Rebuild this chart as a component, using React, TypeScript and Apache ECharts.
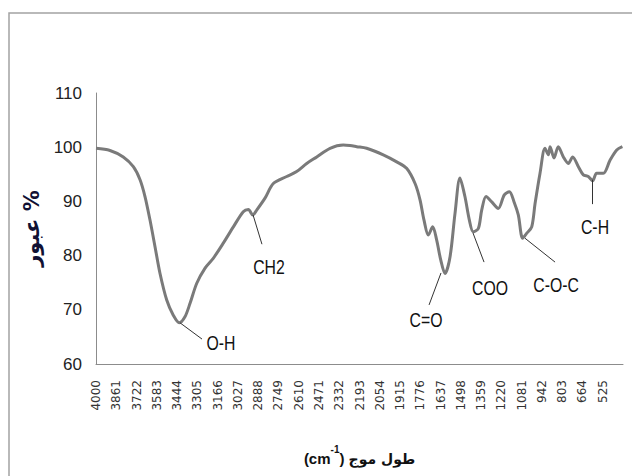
import React, { useEffect, useRef } from "react";
import * as echarts from "echarts";

// FTIR spectrum
const wavenumbers = [
  4000, 3904, 3813, 3744, 3698, 3664, 3630, 3595, 3561, 3515, 3470, 3429, 3390, 3355,
  3309, 3252, 3196, 3127, 3058, 2990, 2955, 2925, 2898, 2841, 2784, 2692, 2624, 2555,
  2486, 2395, 2304, 2258, 2212, 2144, 2030, 1938, 1870, 1812, 1778, 1751, 1721, 1691,
  1664, 1636, 1607, 1572, 1538, 1504, 1470, 1440, 1413, 1378, 1355, 1325, 1286, 1241,
  1200, 1165, 1133, 1104, 1074, 1047, 1012, 989, 955, 921, 898, 886, 859, 830, 795,
  761, 731, 692, 658, 624, 594, 567, 521, 475, 429, 390,
];
const transmittance = [
  99.8, 99.4, 98.2, 96.4, 94.0, 90.9, 86.6, 81.6, 76.7, 71.8, 69.0, 67.6, 68.7, 71.2,
  74.9, 77.7, 79.5, 82.3, 85.3, 88.1, 88.5, 87.5, 88.4, 90.6, 93.3, 94.6, 95.5, 97.0,
  98.2, 99.8, 100.4, 100.3, 100.1, 99.8, 98.6, 97.3, 96.1, 93.3, 90.3, 86.6, 83.8, 85.3,
  82.9, 79.2, 76.7, 79.8, 87.8, 94.3, 90.9, 86.6, 84.4, 85.0, 88.4, 90.9, 89.9, 88.7,
  91.2, 91.8, 89.9, 87.5, 83.2, 84.1, 85.3, 89.6, 95.2, 99.8, 98.6, 100.1, 98.0, 100.1, 98.2,
  97.0, 98.2, 96.4, 94.9, 94.6, 93.8, 95.2, 95.2, 97.6, 99.5, 100.1,
];

// x tick labels: 4000 down to 525 every 139 cm-1
const xMax = 4000;
const xStep = 139;
const xMin = 386;
const yMin = 60;
const yMax = 110;
const yStep = 10;

// band annotations
const bandLabels = ["O-H", "CH2", "C=O", "COO", "C-O-C", "C-H"];
const bandPoints = [
  [3424, 67.6],
  [2923, 87.5],
  [1634, 76.8],
  [1415, 84.2],
  [1058, 83.2],
  [598, 94.0],
];
const leaderEnds = [
  [3273, 64.6],
  [2862, 82.1],
  [1716, 70.9],
  [1339, 78.8],
  [852, 78.8],
  [598, 89.5],
];
const labelAnchors = [
  [3143, 63.9],
  [2814, 77.9],
  [1737, 68.1],
  [1298, 74.0],
  [845, 74.6],
  [578, 85.3],
];

const SANS = "'Liberation Sans', Arial, sans-serif";

export default function App() {
  const ref = useRef<HTMLDivElement>(null);
  useEffect(() => {
    if (!ref.current) return;
    const chart = echarts.init(ref.current, null, { renderer: "svg" });
    const lineData = wavenumbers.map((w, i) => [w, transmittance[i]]);
    chart.setOption({
      animation: false,
      backgroundColor: "#ffffff",
      grid: { left: 96, right: 9, top: 93, bottom: 112, containLabel: false },
      graphic: [
        {
          type: "rect",
          silent: true,
          z: -10,
          shape: { x: 9, y: 13, width: 700, height: 600 },
          style: { fill: "none", stroke: "#a3a3a3", lineWidth: 1.5 },
        },
      ],
      xAxis: {
        type: "value",
        inverse: true,
        min: xMin,
        max: xMax,
        interval: xStep,
        name: "{t|(cm}{s|-1}{t|) }{a|طول موج}",
        nameLocation: "middle",
        nameGap: 80,
        nameTextStyle: {
          rich: {
            t: { fontSize: 15, fontWeight: "bold", fontFamily: SANS, color: "#111", lineHeight: 22, verticalAlign: "bottom" },
            s: { fontSize: 10, fontWeight: "bold", fontFamily: SANS, color: "#111", verticalAlign: "top", lineHeight: 22 },
            a: { fontSize: 14, fontWeight: "bold", fontFamily: "'DejaVu Sans', sans-serif", color: "#111", lineHeight: 22, verticalAlign: "bottom" },
          },
        },
        axisLine: { show: true, lineStyle: { color: "#8c8c8c", width: 1 } },
        axisTick: { show: false },
        splitLine: { show: false },
        axisLabel: {
          rotate: 90,
          margin: 16,
          fontSize: 12,
          fontFamily: "'DejaVu Sans', Verdana, sans-serif",
          color: "#333",
          formatter: (v: number) => (v < 400 ? "" : String(v)),
        },
      },
      yAxis: {
        type: "value",
        min: yMin,
        max: yMax,
        interval: yStep,
        name: "عبور %",
        nameLocation: "middle",
        nameGap: 46,
        nameTextStyle: {
          fontSize: 21,
          fontWeight: "bold",
          fontFamily: "'DejaVu Sans', sans-serif",
          color: "#111133",
        },
        axisLine: { show: true, lineStyle: { color: "#8c8c8c", width: 1 } },
        axisTick: { show: false },
        splitLine: { show: false },
        axisLabel: { fontSize: 17, fontFamily: SANS, color: "#222", margin: 14 },
      },
      series: [
        {
          type: "line",
          data: lineData,
          showSymbol: false,
          smooth: 0.3,
          lineStyle: { color: "#7a7a7a", width: 3 },
          itemStyle: { color: "#7a7a7a" },
          z: 2,
          markLine: {
            silent: true,
            symbol: ["none", "none"],
            label: { show: false },
            lineStyle: { color: "#333", width: 1, type: "solid" },
            emphasis: { disabled: true },
            data: bandPoints.map((p, i) => [{ coord: p }, { coord: leaderEnds[i] }]),
          },
        },
        {
          type: "custom",
          silent: true,
          z: 3,
          data: labelAnchors.map((p) => [p[0], p[1]]),
          renderItem: (params: any, api: any) => {
            const pt = api.coord([api.value(0), api.value(1)]);
            return {
              type: "text",
              x: pt[0],
              y: pt[1],
              scaleX: 0.79,
              style: {
                text: bandLabels[params.dataIndex],
                fontSize: 20,
                fontFamily: SANS,
                fill: "#111",
                align: "center",
                verticalAlign: "middle",
              },
            };
          },
        },
      ],
    });
    return () => chart.dispose();
  }, []);
  return (
    <div
      ref={ref}
      style={{ position: "fixed", left: 0, top: 0, width: 632, height: 476 }}
    />
  );
}
